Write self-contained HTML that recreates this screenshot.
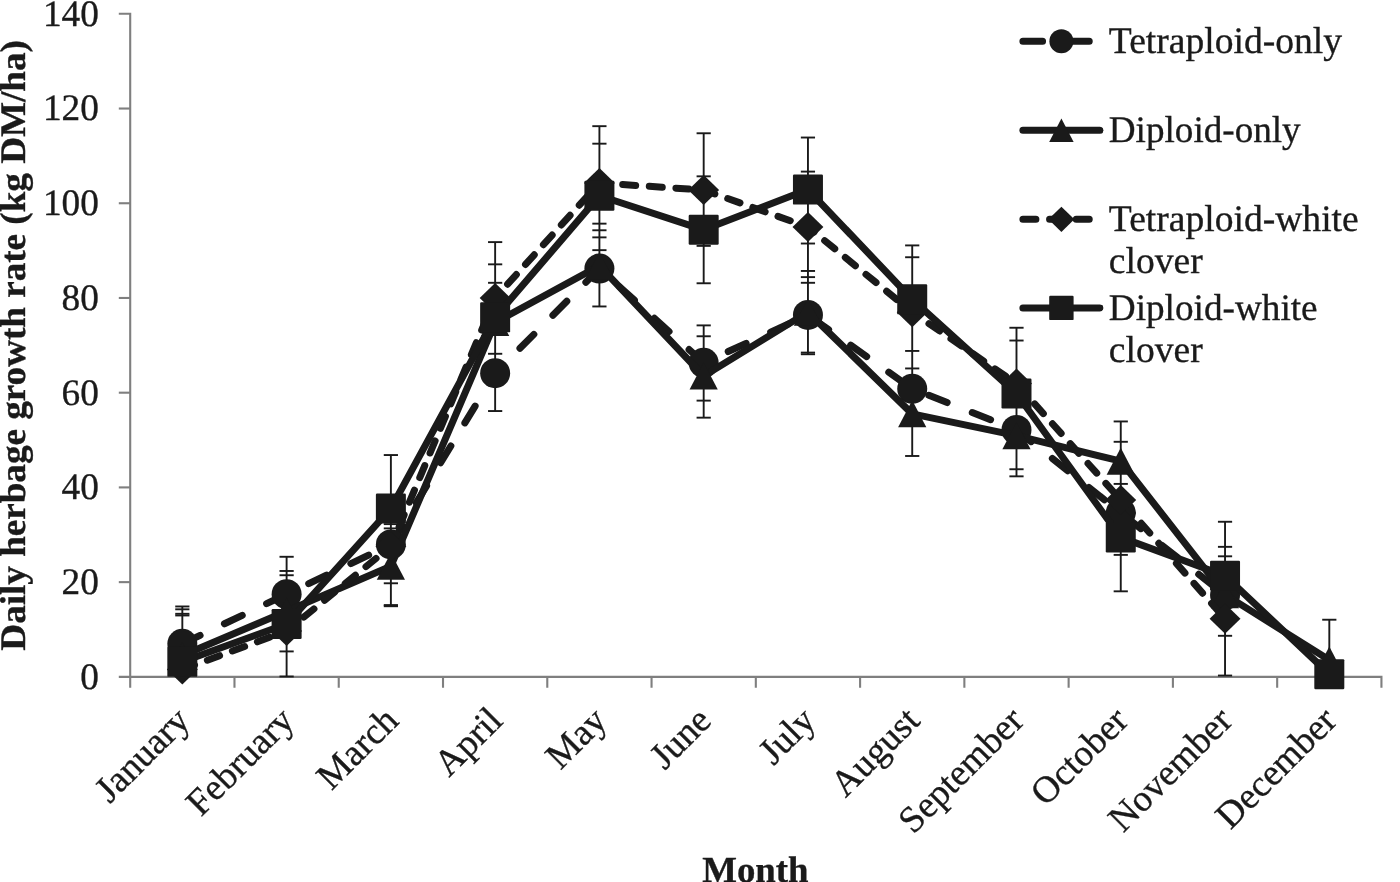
<!DOCTYPE html>
<html lang="en"><head><meta charset="utf-8"><title>Daily herbage growth rate by month</title>
<style>html,body{margin:0;padding:0;background:#fff}svg{display:block}text{font-family:"Liberation Serif",serif;fill:#1a1a1a;stroke:#1a1a1a;stroke-width:0.35px;paint-order:stroke fill;text-rendering:geometricPrecision}</style></head><body>
<svg width="1400" height="882" viewBox="0 0 1400 882">
<rect width="1400" height="882" fill="#fff"/>
<g style="will-change:opacity">
<g stroke="#7f7f7f" stroke-width="2.1" fill="none">
<path d="M118.80 13.81 H130.20 V687.75"/>
<path d="M118.80 676.85 H1381.44 V687.75"/>
<path d="M118.80 582.13 H130.20"/>
<path d="M118.80 487.41 H130.20"/>
<path d="M118.80 392.69 H130.20"/>
<path d="M118.80 297.97 H130.20"/>
<path d="M118.80 203.25 H130.20"/>
<path d="M118.80 108.53 H130.20"/>
<path d="M234.47 676.85 V687.75"/>
<path d="M338.74 676.85 V687.75"/>
<path d="M443.01 676.85 V687.75"/>
<path d="M547.28 676.85 V687.75"/>
<path d="M651.55 676.85 V687.75"/>
<path d="M755.82 676.85 V687.75"/>
<path d="M860.09 676.85 V687.75"/>
<path d="M964.36 676.85 V687.75"/>
<path d="M1068.63 676.85 V687.75"/>
<path d="M1172.90 676.85 V687.75"/>
<path d="M1277.17 676.85 V687.75"/>
</g>
<g font-size="37.3" text-anchor="end">
<text x="98.9" y="688.8">0</text>
<text x="98.9" y="594.0">20</text>
<text x="98.9" y="499.3">40</text>
<text x="98.9" y="404.6">60</text>
<text x="98.9" y="309.9">80</text>
<text x="98.9" y="215.2">100</text>
<text x="98.9" y="120.4">120</text>
<text x="98.9" y="25.7">140</text>
</g>
<g font-size="37.2" text-anchor="end">
<text transform="translate(191.6 722.5) rotate(-45)">January</text>
<text transform="translate(295.9 722.5) rotate(-45)">February</text>
<text transform="translate(400.2 722.5) rotate(-45)">March</text>
<text transform="translate(504.4 722.5) rotate(-45)">April</text>
<text transform="translate(608.7 722.5) rotate(-45)">May</text>
<text transform="translate(713.0 722.5) rotate(-45)">June</text>
<text transform="translate(817.3 722.5) rotate(-45)">July</text>
<text transform="translate(921.5 722.5) rotate(-45)">August</text>
<text transform="translate(1025.8 722.5) rotate(-45)">September</text>
<text transform="translate(1130.1 722.5) rotate(-45)">October</text>
<text transform="translate(1234.3 722.5) rotate(-45)">November</text>
<text transform="translate(1338.6 722.5) rotate(-45)">December</text>
</g>
<text font-size="36" font-weight="bold" text-anchor="middle" textLength="610.5" lengthAdjust="spacingAndGlyphs" transform="translate(24.6 345.4) rotate(-90)">Daily herbage growth rate (kg DM/ha)</text>
<text font-size="36.8" font-weight="bold" text-anchor="middle" x="755.4" y="882">Month</text>
<g stroke="#1a1a1a" stroke-width="1.9" fill="none">
<path d="M182.33 606.47 V676.50"/>
<path d="M175.23 606.47 H189.43"/>
<path d="M175.23 609.31 H189.43"/>
<path d="M175.23 613.80 H189.43"/>
<path d="M175.23 615.46 H189.43"/>
<path d="M286.61 556.78 V676.50"/>
<path d="M279.50 556.78 H293.71"/>
<path d="M279.50 570.98 H293.71"/>
<path d="M279.50 575.24 H293.71"/>
<path d="M279.50 651.42 H293.71"/>
<path d="M279.50 676.50 H293.71"/>
<path d="M390.88 455.04 V606.23"/>
<path d="M383.77 455.04 H397.98"/>
<path d="M383.77 524.13 H397.98"/>
<path d="M383.77 528.39 H397.98"/>
<path d="M383.77 583.28 H397.98"/>
<path d="M383.77 606.23 H397.98"/>
<path d="M383.77 605.05 H397.98"/>
<path d="M495.14 242.10 V411.03"/>
<path d="M488.04 242.10 H502.25"/>
<path d="M488.04 264.34 H502.25"/>
<path d="M488.04 282.80 H502.25"/>
<path d="M488.04 353.78 H502.25"/>
<path d="M488.04 411.03 H502.25"/>
<path d="M599.41 126.17 V306.46"/>
<path d="M592.31 126.17 H606.51"/>
<path d="M592.31 143.68 H606.51"/>
<path d="M592.31 223.65 H606.51"/>
<path d="M592.31 230.27 H606.51"/>
<path d="M592.31 237.37 H606.51"/>
<path d="M592.31 250.15 H606.51"/>
<path d="M592.31 306.46 H606.51"/>
<path d="M703.68 133.27 V283.27"/>
<path d="M696.58 133.27 H710.78"/>
<path d="M696.58 176.33 H710.78"/>
<path d="M696.58 245.89 H710.78"/>
<path d="M696.58 283.27 H710.78"/>
<path d="M703.68 325.39 V417.66"/>
<path d="M696.58 325.39 H710.78"/>
<path d="M696.58 336.27 H710.78"/>
<path d="M696.58 400.62 H710.78"/>
<path d="M696.58 417.66 H710.78"/>
<path d="M807.95 137.53 V354.25"/>
<path d="M800.85 137.53 H815.05"/>
<path d="M800.85 171.60 H815.05"/>
<path d="M800.85 243.52 H815.05"/>
<path d="M800.85 270.97 H815.05"/>
<path d="M800.85 277.12 H815.05"/>
<path d="M800.85 282.80 H815.05"/>
<path d="M800.85 352.59 H815.05"/>
<path d="M800.85 354.25 H815.05"/>
<path d="M912.22 245.41 V455.99"/>
<path d="M905.12 245.41 H919.32"/>
<path d="M905.12 257.24 H919.32"/>
<path d="M905.12 350.94 H919.32"/>
<path d="M905.12 368.45 H919.32"/>
<path d="M905.12 455.99 H919.32"/>
<path d="M1016.49 327.75 V476.34"/>
<path d="M1009.39 327.75 H1023.59"/>
<path d="M1009.39 340.53 H1023.59"/>
<path d="M1009.39 469.24 H1023.59"/>
<path d="M1009.39 476.34 H1023.59"/>
<path d="M1120.76 421.45 V591.32"/>
<path d="M1113.66 421.45 H1127.86"/>
<path d="M1113.66 441.79 H1127.86"/>
<path d="M1113.66 483.91 H1127.86"/>
<path d="M1113.66 554.89 H1127.86"/>
<path d="M1113.66 591.32 H1127.86"/>
<path d="M1225.04 521.76 V675.55"/>
<path d="M1217.94 521.76 H1232.13"/>
<path d="M1217.94 546.84 H1232.13"/>
<path d="M1217.94 556.31 H1232.13"/>
<path d="M1217.94 635.80 H1232.13"/>
<path d="M1217.94 675.55 H1232.13"/>
<path d="M1329.31 619.72 V674.13"/>
<path d="M1322.21 619.72 H1336.40"/>
</g>
<polyline points="182.33,643.85 286.61,594.16 390.88,544.48 495.14,373.18 599.41,268.60 703.68,362.77 807.95,314.98 912.22,388.79 1016.49,429.96 1120.76,512.77 1225.04,595.11" fill="none" stroke="#1a1a1a" stroke-width="7.0" stroke-linecap="round" stroke-linejoin="round" stroke-dasharray="19.67 27"/>
<g fill="#1a1a1a">
<circle cx="182.33" cy="643.85" r="15.00"/>
<circle cx="286.61" cy="594.16" r="15.00"/>
<circle cx="390.88" cy="544.48" r="15.00"/>
<circle cx="495.14" cy="373.18" r="15.00"/>
<circle cx="599.41" cy="268.60" r="15.00"/>
<circle cx="703.68" cy="362.77" r="15.00"/>
<circle cx="807.95" cy="314.98" r="15.00"/>
<circle cx="912.22" cy="388.79" r="15.00"/>
<circle cx="1016.49" cy="429.96" r="15.00"/>
<circle cx="1120.76" cy="512.77" r="15.00"/>
<circle cx="1225.04" cy="595.11" r="15.00"/>
</g>
<polyline points="182.33,655.44 286.61,611.20 390.88,566.24 495.14,322.55 599.41,265.76 703.68,376.02 807.95,312.14 912.22,413.87 1016.49,435.64 1120.76,461.19 1225.04,594.64 1329.31,659.94" fill="none" stroke="#1a1a1a" stroke-width="7.0" stroke-linecap="round" stroke-linejoin="round"/>
<g fill="#1a1a1a">
<path d="M182.33 641.94 L196.43 668.94 L168.23 668.94Z"/>
<path d="M286.61 597.70 L300.71 624.70 L272.50 624.70Z"/>
<path d="M390.88 552.74 L404.98 579.74 L376.77 579.74Z"/>
<path d="M495.14 309.05 L509.25 336.05 L481.04 336.05Z"/>
<path d="M599.41 252.26 L613.51 279.26 L585.31 279.26Z"/>
<path d="M703.68 362.52 L717.78 389.52 L689.58 389.52Z"/>
<path d="M807.95 298.64 L822.05 325.64 L793.85 325.64Z"/>
<path d="M912.22 400.37 L926.32 427.37 L898.12 427.37Z"/>
<path d="M1016.49 422.14 L1030.59 449.14 L1002.39 449.14Z"/>
<path d="M1120.76 447.69 L1134.86 474.69 L1106.66 474.69Z"/>
<path d="M1225.04 581.14 L1239.13 608.14 L1210.94 608.14Z"/>
<path d="M1329.31 646.44 L1343.40 673.44 L1315.21 673.44Z"/>
</g>
<polyline points="182.33,669.40 286.61,631.07 390.88,546.37 495.14,297.94 599.41,182.95 703.68,190.05 807.95,226.96 912.22,312.14 1016.49,383.59 1120.76,500.00 1225.04,618.77" fill="none" stroke="#1a1a1a" stroke-width="7.0" stroke-linecap="round" stroke-linejoin="round" stroke-dasharray="13 13.67"/>
<g fill="#1a1a1a">
<path d="M182.33 654.40 L197.78 669.40 L182.33 684.40 L166.88 669.40Z"/>
<path d="M286.61 616.07 L302.06 631.07 L286.61 646.07 L271.16 631.07Z"/>
<path d="M390.88 531.37 L406.32 546.37 L390.88 561.37 L375.43 546.37Z"/>
<path d="M495.14 282.94 L510.59 297.94 L495.14 312.94 L479.69 297.94Z"/>
<path d="M599.41 167.95 L614.87 182.95 L599.41 197.95 L583.96 182.95Z"/>
<path d="M703.68 175.05 L719.13 190.05 L703.68 205.05 L688.23 190.05Z"/>
<path d="M807.95 211.96 L823.40 226.96 L807.95 241.96 L792.50 226.96Z"/>
<path d="M912.22 297.14 L927.67 312.14 L912.22 327.14 L896.77 312.14Z"/>
<path d="M1016.49 368.59 L1031.94 383.59 L1016.49 398.59 L1001.04 383.59Z"/>
<path d="M1120.76 485.00 L1136.21 500.00 L1120.76 515.00 L1105.31 500.00Z"/>
<path d="M1225.04 603.77 L1240.49 618.77 L1225.04 633.77 L1209.59 618.77Z"/>
</g>
<polyline points="182.33,661.83 286.61,623.97 390.88,508.51 495.14,317.34 599.41,195.73 703.68,229.80 807.95,189.58 912.22,299.36 1016.49,393.53 1120.76,537.38 1225.04,575.71 1329.31,674.13" fill="none" stroke="#1a1a1a" stroke-width="7.0" stroke-linecap="round" stroke-linejoin="round"/>
<g fill="#1a1a1a">
<rect x="167.33" y="646.83" width="30.00" height="30.00" rx="1.2"/>
<rect x="271.61" y="608.97" width="30.00" height="30.00" rx="1.2"/>
<rect x="375.88" y="493.51" width="30.00" height="30.00" rx="1.2"/>
<rect x="480.14" y="302.34" width="30.00" height="30.00" rx="1.2"/>
<rect x="584.41" y="180.73" width="30.00" height="30.00" rx="1.2"/>
<rect x="688.68" y="214.80" width="30.00" height="30.00" rx="1.2"/>
<rect x="792.95" y="174.58" width="30.00" height="30.00" rx="1.2"/>
<rect x="897.22" y="284.36" width="30.00" height="30.00" rx="1.2"/>
<rect x="1001.49" y="378.53" width="30.00" height="30.00" rx="1.2"/>
<rect x="1105.76" y="522.38" width="30.00" height="30.00" rx="1.2"/>
<rect x="1210.04" y="560.71" width="30.00" height="30.00" rx="1.2"/>
<rect x="1314.31" y="659.13" width="30.00" height="30.00" rx="1.2"/>
</g>
<path d="M1022.90 41.20 H1089.50" fill="none" stroke="#1a1a1a" stroke-width="7.0" stroke-linecap="round" stroke-dasharray="19.67 27"/>
<g fill="#1a1a1a"><circle cx="1061.40" cy="41.20" r="12.00"/></g>
<text font-size="37.5" x="1108.8" y="52.9" textLength="233.2" lengthAdjust="spacingAndGlyphs">Tetraploid-only</text>
<path d="M1022.90 130.30 H1099.90" fill="none" stroke="#1a1a1a" stroke-width="7.0" stroke-linecap="round"/>
<g fill="#1a1a1a"><path d="M1061.40 118.60 L1073.62 142.00 L1049.18 142.00Z"/></g>
<text font-size="37.5" x="1108.8" y="142.0" textLength="191.9" lengthAdjust="spacingAndGlyphs">Diploid-only</text>
<path d="M1022.90 219.30 H1089.50" fill="none" stroke="#1a1a1a" stroke-width="7.0" stroke-linecap="round" stroke-dasharray="13 13.67"/>
<g fill="#1a1a1a"><path d="M1061.40 206.70 L1074.38 219.30 L1061.40 231.90 L1048.42 219.30Z"/></g>
<text font-size="37.5" x="1108.8" y="231.0" textLength="249.9" lengthAdjust="spacingAndGlyphs">Tetraploid-white</text>
<text font-size="37.5" x="1108.8" y="273.0" textLength="93.9" lengthAdjust="spacingAndGlyphs">clover</text>
<path d="M1022.90 307.90 H1099.90" fill="none" stroke="#1a1a1a" stroke-width="7.0" stroke-linecap="round"/>
<g fill="#1a1a1a"><rect x="1049.20" y="295.70" width="24.40" height="24.40" rx="1.2"/></g>
<text font-size="37.5" x="1108.8" y="319.6" textLength="208.8" lengthAdjust="spacingAndGlyphs">Diploid-white</text>
<text font-size="37.5" x="1108.8" y="361.6" textLength="93.9" lengthAdjust="spacingAndGlyphs">clover</text>
</g>
</svg></body></html>
